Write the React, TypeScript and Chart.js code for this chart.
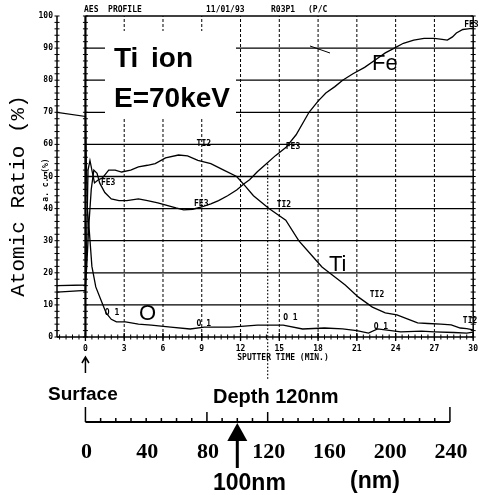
import { useEffect, useRef } from "react";
import { Chart, registerables } from "chart.js";
Chart.register(...registerables);

// ---- data ----
const timeTicks = [0, 3, 6, 9, 12, 15, 18, 21, 24, 27, 30];
const ratioTicks = [0, 10, 20, 30, 40, 50, 60, 70, 80, 90, 100];
const depthTicks = [0, 40, 80, 120, 160, 200, 240];
const timeMin = -2.2;
const timeMax = 30;
const minutesAt240nm = 28.2;
const depthMarkNm = 120;
const arrowNm = 100;

const feTime = [-2.2, 0, 0.1, 0.25, 0.45, 0.65, 0.9, 1.1, 1.5, 2.0, 2.6, 3.2, 4.1, 4.8, 5.6, 6.3, 7.0, 7.6, 8.3, 9.0, 9.7, 10.3, 11.0, 11.7, 12.3, 12.7, 13.3, 14.0, 14.7, 15.5, 16.3, 17.3, 18.0, 18.6, 19.3, 19.9, 20.7, 21.6, 22.5, 23.2, 23.9, 24.6, 25.4, 26.2, 27.0, 27.6, 28.0, 28.4, 28.7, 29.2, 29.6, 30];
const feRatio = [16, 16.2, 22, 34, 46, 52, 51, 48, 45, 43, 42.5, 42.5, 43, 42.5, 41.8, 41, 40.2, 39.6, 39.8, 40.5, 41.5, 42.5, 44, 45.8, 47.8, 49, 51.5, 54, 56.5, 59, 63, 70, 73.5, 76, 78, 80, 82, 84, 86.5, 88.5, 90, 91.5, 92.5, 93, 93, 92.7, 92.5, 93.5, 94.7, 95.8, 96, 96.2];

const tiTime = [-2.2, 0, 0.1, 0.2, 0.35, 0.5, 0.7, 1.0, 1.3, 1.6, 1.8, 2.3, 2.8, 3.5, 4.1, 4.8, 5.4, 6.2, 7.2, 7.9, 8.7, 9.7, 10.7, 11.7, 12.3, 13.0, 14.2, 15.5, 16.5, 17.6, 18.3, 19.1, 20.1, 21.1, 22.2, 23.2, 24.1, 25.0, 25.7, 26.5, 27.5, 28.3, 29.0, 29.5, 30];
const tiRatio = [14, 14.5, 30, 52, 55, 52, 48, 49, 49.5, 51, 52, 52, 51.4, 52, 53, 53.5, 54, 55.8, 56.7, 56.4, 55, 54, 52, 50, 47.3, 44, 40, 36.4, 30, 25, 21.8, 19.3, 16.2, 12.5, 9.3, 7.5, 6.9, 5.5, 4.4, 4.2, 4, 3.8, 2.8, 2.6, 2.2];

const oTime = [-2.2, 0, 0.05, 0.15, 0.3, 0.5, 0.8, 1.2, 1.6, 2.0, 2.4, 3.1, 4.1, 5.1, 6.6, 8.1, 9.2, 11.2, 12.3, 13.3, 15.3, 16.8, 18.5, 19.9, 21.0, 21.9, 22.6, 24.4, 26.0, 27.0, 28.5, 29.5, 30];
const oRatio = [70, 68.7, 58, 40, 33, 22, 15.6, 11.5, 7.5, 5.5, 4.7, 4.7, 4.0, 3.7, 3.1, 2.5, 3.1, 3.1, 3.4, 3.7, 3.7, 2.5, 2.8, 2.5, 2.0, 1.2, 2.5, 1.6, 1.8, 1.6, 1.4, 1.2, 1.5];

const smallLabels: [string, number, number][] = [
  ["TI2", 8.6, 59.5],
  ["FE3", 1.2, 47.5],
  ["FE3", 8.4, 40.8],
  ["FE3", 15.5, 58.5],
  ["TI2", 14.8, 40.5],
  ["TI2", 22.0, 12.5],
  ["TI2", 29.2, 4.5],
  ["O 1", 1.5, 7.0],
  ["O 1", 8.6, 3.4],
  ["O 1", 15.3, 5.3],
  ["O 1", 22.3, 2.4],
  ["FE3", 29.3, 96.5],
];

const toPts = (t: number[], v: number[]) => t.map((x, i) => ({ x, y: v[i] }));

const MONO = "'DejaVu Sans Mono', monospace";
const SANS = "'Liberation Sans', Arial, sans-serif";

const decor = {
  id: "decor",
  beforeDatasetsDraw(chart: any) {
    const { ctx, scales } = chart;
    const X = (v: number) => scales.x.getPixelForValue(v);
    const Y = (v: number) => scales.y.getPixelForValue(v);
    ctx.save();
    ctx.strokeStyle = "#000";
    // horizontal grid
    ctx.lineWidth = 1.3;
    ratioTicks.forEach((v) => {
      if (v <= 0) return;
      ctx.beginPath();
      ctx.moveTo(X(0), Y(v));
      ctx.lineTo(X(timeMax), Y(v));
      ctx.stroke();
    });
    // vertical dashed grid
    ctx.lineWidth = 1;
    ctx.setLineDash([3, 2]);
    timeTicks.forEach((t) => {
      if (t <= 0 || t >= timeMax) return;
      ctx.beginPath();
      ctx.moveTo(X(t), Y(0));
      ctx.lineTo(X(t), Y(100));
      ctx.stroke();
    });
    ctx.setLineDash([]);
    // white box behind the annotation
    ctx.fillStyle = "#fff";
    ctx.fillRect(105, 31, 131, 87);
    // axes
    ctx.lineWidth = 1.5;
    ctx.beginPath();
    ctx.moveTo(X(timeMin), Y(0));
    ctx.lineTo(X(timeMin), Y(100));
    ctx.moveTo(X(timeMax), Y(0));
    ctx.lineTo(X(timeMax), Y(100));
    ctx.moveTo(X(timeMin), Y(0));
    ctx.lineTo(X(timeMax), Y(0));
    ctx.stroke();
    ctx.lineWidth = 2.2;
    ctx.beginPath();
    ctx.moveTo(X(0), Y(0));
    ctx.lineTo(X(0), Y(100));
    ctx.stroke();
    // minor ticks
    ctx.lineWidth = 1;
    ctx.beginPath();
    for (let v = 0; v <= 100; v += 2) {
      [timeMin, 0, timeMax].forEach((t) => {
        ctx.moveTo(X(t) - 2.5, Y(v));
        ctx.lineTo(X(t) + 2.5, Y(v));
      });
    }
    for (let t = -2; t <= timeMax; t += 0.5) {
      ctx.moveTo(X(t), Y(0) - 2.5);
      ctx.lineTo(X(t), Y(0) + 2.5);
    }
    ctx.stroke();
    ctx.lineWidth = 1.3;
    ctx.beginPath();
    timeTicks.forEach((t) => {
      ctx.moveTo(X(t), Y(0) - 4);
      ctx.lineTo(X(t), Y(0) + 4);
    });
    ctx.stroke();
    // dotted depth marker
    const tMark = (depthMarkNm / 240) * minutesAt240nm;
    ctx.lineWidth = 1.2;
    ctx.setLineDash([1.5, 2]);
    ctx.beginPath();
    ctx.moveTo(X(tMark), Y(54));
    ctx.lineTo(X(tMark), 380);
    ctx.stroke();
    ctx.setLineDash([]);
    // stray mark near top
    ctx.lineWidth = 1;
    ctx.beginPath();
    ctx.moveTo(310, 46);
    ctx.lineTo(330, 53);
    ctx.stroke();
    ctx.restore();
  },
  afterDatasetsDraw(chart: any) {
    const { ctx, scales } = chart;
    const X = (v: number) => scales.x.getPixelForValue(v);
    const Y = (v: number) => scales.y.getPixelForValue(v);
    const D = (nm: number) => X((nm / 240) * minutesAt240nm);
    ctx.save();
    ctx.fillStyle = "#000";
    ctx.strokeStyle = "#000";
    ctx.textBaseline = "alphabetic";
    // header
    ctx.font = `bold 8px ${MONO}`;
    ctx.textAlign = "left";
    ctx.fillText("AES  PROFILE", 84, 12);
    ctx.fillText("11/01/93", 206, 12);
    ctx.fillText("R03P1", 271, 12);
    ctx.fillText("(P/C", 308, 12);
    // annotation
    ctx.font = `bold 28px ${SANS}`;
    ctx.fillText("Ti", 114, 67);
    ctx.fillText("ion", 151, 67);
    ctx.fillText("E=70keV", 114, 107);
    // element labels
    ctx.font = `22px ${SANS}`;
    ctx.fillText("Fe", 372, 70);
    ctx.fillText("Ti", 329, 271);
    ctx.fillText("O", 139, 320);
    // small labels
    ctx.font = `bold 8px ${MONO}`;
    smallLabels.forEach(([s, t, v]) => ctx.fillText(s, X(t), Y(v)));
    // y title
    ctx.save();
    ctx.translate(24, 196);
    ctx.rotate(-Math.PI / 2);
    ctx.textAlign = "center";
    ctx.font = `21px 'Liberation Mono', monospace`;
    ctx.fillText("Atomic Ratio (%)", 0, 0);
    ctx.restore();
    ctx.save();
    ctx.translate(48, 180);
    ctx.rotate(-Math.PI / 2);
    ctx.textAlign = "center";
    ctx.font = `bold 8px ${MONO}`;
    ctx.fillText("a. c. (%)", 0, 0);
    ctx.restore();
    // x title
    ctx.textAlign = "center";
    ctx.font = `bold 8px ${MONO}`;
    ctx.fillText("SPUTTER TIME (MIN.)", 283, 360);
    // surface arrow
    ctx.lineWidth = 1.5;
    ctx.beginPath();
    ctx.moveTo(X(0), 373);
    ctx.lineTo(X(0), 358);
    ctx.moveTo(X(0) - 3.5, 363);
    ctx.lineTo(X(0), 357);
    ctx.lineTo(X(0) + 3.5, 363);
    ctx.stroke();
    ctx.textAlign = "left";
    ctx.font = `bold 19px ${SANS}`;
    ctx.fillText("Surface", 48, 400);
    ctx.font = `bold 20px ${SANS}`;
    ctx.fillText("Depth 120nm", 213, 403);
    // depth scale bar
    ctx.lineWidth = 2;
    ctx.beginPath();
    ctx.moveTo(D(0), 422);
    ctx.lineTo(D(240), 422);
    ctx.stroke();
    ctx.lineWidth = 1.5;
    ctx.beginPath();
    for (let nm = 0; nm <= 240; nm += 10) {
      let h = 4;
      if (nm === 0 || nm === 240) h = 15;
      else if (nm === 80 || nm === 120) h = 10;
      ctx.moveTo(D(nm), 422);
      ctx.lineTo(D(nm), 422 - h);
    }
    ctx.stroke();
    ctx.textAlign = "center";
    ctx.font = `bold 22px 'Liberation Serif', serif`;
    depthTicks.forEach((nm) => ctx.fillText(String(nm), D(nm) + 1, 458));
    // 100 nm arrow
    const ax = D(arrowNm);
    ctx.beginPath();
    ctx.moveTo(ax, 423);
    ctx.lineTo(ax - 10, 441);
    ctx.lineTo(ax + 10, 441);
    ctx.closePath();
    ctx.fill();
    ctx.lineWidth = 3;
    ctx.beginPath();
    ctx.moveTo(ax, 440);
    ctx.lineTo(ax, 468);
    ctx.stroke();
    ctx.textAlign = "left";
    ctx.font = `bold 23px ${SANS}`;
    ctx.fillText("100nm", 213, 490);
    ctx.fillText("(nm)", 350, 488);
    ctx.restore();
  },
};

export default function App() {
  const ref = useRef<HTMLCanvasElement>(null);
  useEffect(() => {
    if (!ref.current) return;
    const ds = (pts: any) => ({
      data: pts,
      borderColor: "#000",
      borderWidth: 1.3,
      pointRadius: 0,
      fill: false,
      tension: 0,
    });
    const chart = new Chart(ref.current, {
      type: "line",
      data: {
        datasets: [ds(toPts(feTime, feRatio)), ds(toPts(tiTime, tiRatio)), ds(toPts(oTime, oRatio))],
      },
      options: {
        responsive: false,
        animation: false,
        devicePixelRatio: 1,
        layout: { padding: { top: 16, right: 5, left: 0, bottom: 0 } },
        plugins: { legend: { display: false }, tooltip: { enabled: false }, title: { display: false } },
        scales: {
          x: {
            type: "linear",
            min: timeMin,
            max: timeMax,
            afterBuildTicks: (s: any) => {
              s.ticks = timeTicks.map((value) => ({ value }));
            },
            afterFit: (s: any) => {
              s.height = 158;
            },
            grid: { display: false, drawTicks: false },
            border: { display: false },
            ticks: {
              padding: 7,
              maxRotation: 0,
              autoSkip: false,
              color: "#000",
              font: { family: "'DejaVu Sans Mono', monospace", size: 8, weight: "bold" },
            },
          },
          y: {
            type: "linear",
            min: 0,
            max: 100,
            afterBuildTicks: (s: any) => {
              s.ticks = ratioTicks.map((value) => ({ value }));
            },
            afterFit: (s: any) => {
              s.width = 57;
            },
            grid: { display: false, drawTicks: false },
            border: { display: false },
            ticks: {
              padding: 4,
              color: "#000",
              font: { family: "'DejaVu Sans Mono', monospace", size: 8, weight: "bold" },
            },
          },
        },
      },
      plugins: [decor],
    });
    return () => chart.destroy();
  }, []);
  return (
    <div style={{ position: "absolute", left: 0, top: 0, width: 485, height: 495, background: "#fff" }}>
      <canvas ref={ref} width={485} height={495} />
    </div>
  );
}
